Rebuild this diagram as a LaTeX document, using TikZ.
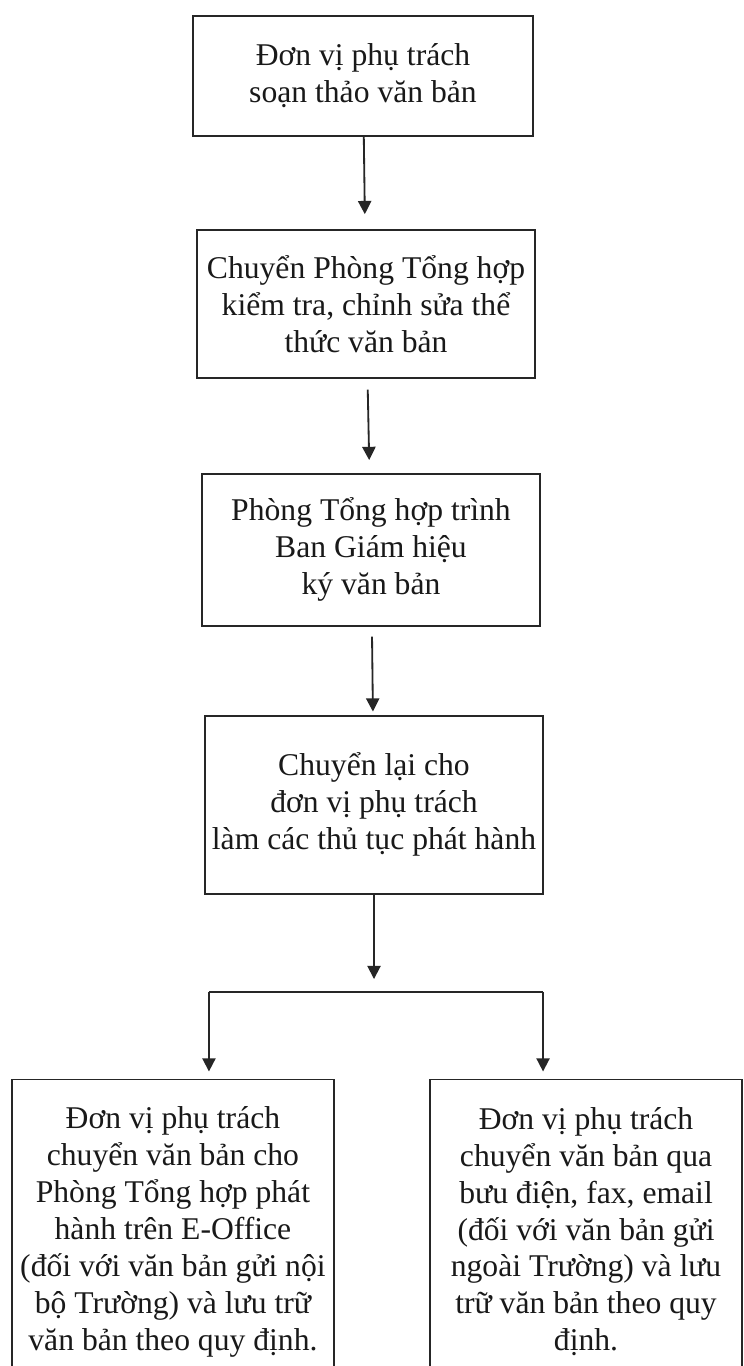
\documentclass[tikz,border=0pt]{standalone}
\usepackage{fontspec}
\setmainfont{Liberation Serif}
\usetikzlibrary{positioning, arrows.meta}

\begin{document}
\begin{tikzpicture}[
    x=0.025cm, y=-0.025cm,
    node distance=2.3cm,
    box/.style={rectangle, draw=black!85, line width=1.3pt, text=black!90, align=center, inner sep=2pt, font=\fontsize{22.5}{26.3}\selectfont},
    wide/.style={box, minimum width=8.45cm},
    leaf/.style={box, minimum height=7.6cm},
    arrow/.style={-{Triangle[width=0.33cm, length=0.33cm]}, line width=1.3pt, draw=black!85, shorten >=0.25cm},
    link/.style={line width=1.3pt, draw=black!85}
]
\useasboundingbox[fill=white] (0,0) rectangle (743,1366);
\clip (0,0) rectangle (743,1366);

% Drafting unit
\node[wide, minimum width=8.5cm, minimum height=3cm] (draft) at (363,76) {Đơn vị phụ trách\\soạn thảo văn bản};

% General office check
\node[wide, minimum height=3.7cm, below=2.3cm of draft, xshift=0.075cm] (check) {Chuyển Phòng Tổng hợp\\kiểm tra, chỉnh sửa thể\\thức văn bản};

% Board signs
\node[wide, minimum height=3.8cm, below=2.35cm of check, xshift=0.125cm] (sign) {Phòng Tổng hợp trình\\Ban Giám hiệu\\ký văn bản};

% Back to unit
\node[wide, minimum height=4.45cm, below=2.2cm of sign, xshift=0.075cm] (issue) {Chuyển lại cho\\đơn vị phụ trách\\làm các thủ tục phát hành};

% Split
\coordinate[below=2.43cm of issue] (split);
\coordinate[left=4.125cm of split] (splitl);
\coordinate[right=4.225cm of split] (splitr);

% Output branches
\node[leaf, minimum width=8.05cm, below=4.6cm of issue, xshift=-5.025cm] (inner) {Đơn vị phụ trách\\chuyển văn bản cho\\Phòng Tổng hợp phát\\hành trên E-Office\\(đối với văn bản gửi nội\\bộ Trường) và lưu trữ\\văn bản theo quy định.};
\node[leaf, minimum width=7.8cm, below=4.6cm of issue, xshift=5.3cm] (outer) {Đơn vị phụ trách\\chuyển văn bản qua\\bưu điện, fax, email\\(đối với văn bản gửi\\ngoài Trường) và lưu\\trữ văn bản theo quy\\định.};

% Arrows
\draw[arrow, shorten >=0.37cm] (draft) -- (check);
\draw[arrow, shorten <=0.27cm, shorten >=0.32cm] (check) -- (sign);
\draw[arrow, shorten <=0.25cm, shorten >=0.08cm] (sign) -- (issue);
\draw[arrow, shorten >=0.32cm] (issue) -- (split);
\draw[link] (splitl) -- (splitr);
\draw[arrow, shorten >=0.18cm] (splitl) -- (splitl |- inner.north);
\draw[arrow, shorten >=0.18cm] (splitr) -- (splitr |- outer.north);
\end{tikzpicture}
\end{document}
